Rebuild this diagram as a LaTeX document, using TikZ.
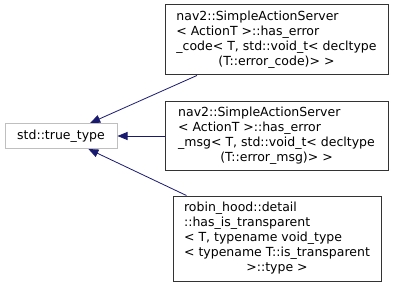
\documentclass[tikz,border=0pt]{standalone}
\usepackage{fontspec}
\setmainfont{DejaVu Sans}
\usetikzlibrary{arrows.meta}

\tikzset{
	classbox/.style={draw=black!80, fill=white, line width=1pt, inner sep=0pt},
	basebox/.style={draw=black!25, fill=white, line width=1pt, inner sep=0pt},
	inherit/.style={draw={rgb,255:red,25;green,25;blue,112}, line width=0.8pt,
		{Triangle[length=10pt,width=8pt]}-}
}

\begin{document}
\begin{tikzpicture}[x=1pt, y=-1pt, font=\fontsize{12.5}{14.8}\selectfont]
		\useasboundingbox (0,0) rectangle (401,286);

		% Base class on the left
		\node[basebox, minimum width=112pt, minimum height=25pt] (truetype) at (61,136) {std::true\_type};

		% Derived classes on the right
		\node[classbox, minimum width=223pt, minimum height=70pt] (errcode) at (276.5,40) {%
			\begin{tabular}{@{}l@{}}
				nav2::SimpleActionServer\\
				< ActionT >::has\_error\\
				\_code< T, std::void\_t< decltype\\
				\multicolumn{1}{@{}c@{}}{(T::error\_code)> >}
			\end{tabular}};
		\node[classbox, minimum width=223pt, minimum height=69pt] (errmsg) at (276.5,136) {%
			\begin{tabular}{@{}l@{}}
				nav2::SimpleActionServer\\
				< ActionT >::has\_error\\
				\_msg< T, std::void\_t< decltype\\
				\multicolumn{1}{@{}c@{}}{(T::error\_msg)> >}
			\end{tabular}};
		\node[classbox, minimum width=208pt, minimum height=85pt] (transparent) at (277,238.5) {%
			\begin{tabular}{@{}l@{}}
				robin\_hood::detail\\
				::has\_is\_transparent\\
				< T, typename void\_type\\
				< typename T::is\_transparent\\
				\multicolumn{1}{@{}c@{}}{>::type >}
			\end{tabular}};

		% Inheritance arrows
		\draw[inherit] (truetype) -- (errcode);
		\draw[inherit] (truetype) -- (errmsg);
		\draw[inherit] (truetype) -- (transparent);
	\end{tikzpicture}
\end{document}
